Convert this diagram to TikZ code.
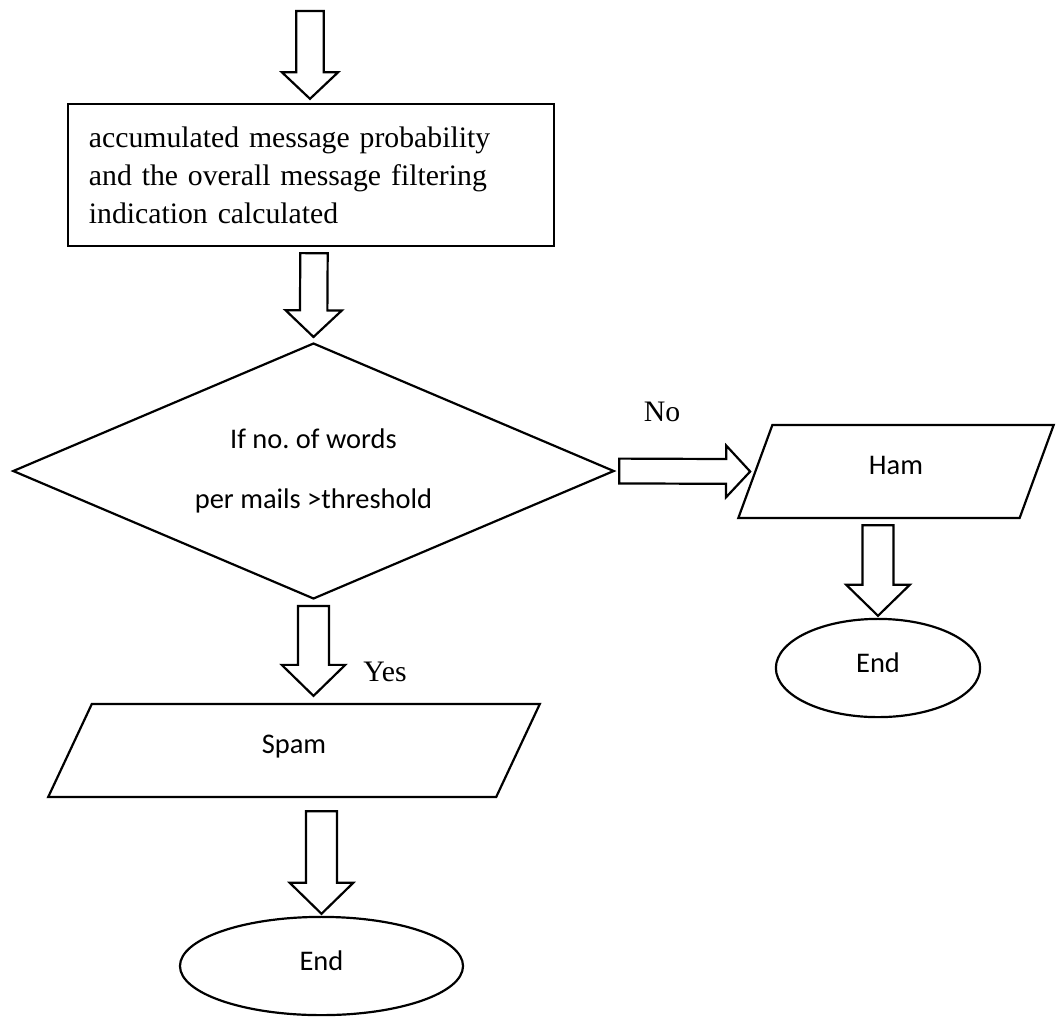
\documentclass[tikz,border=0pt]{standalone}
\usepackage{fontspec}
\setmainfont{Liberation Serif}
\newfontfamily\calibri{Carlito}
\usepackage{tikz}
\usetikzlibrary{calc}
\usetikzlibrary{positioning}
\usetikzlibrary{shapes.geometric}
\frenchspacing
\tikzstyle{fatline} = [draw=black, line width=0.85pt, fill=white, line join=miter]
\tikzstyle{procbox} = [draw=black, line width=0.85pt, rectangle, align=left, text width=171.8pt, inner xsep=8.1pt, minimum height=55pt, font=\fontsize{11.5}{14.7}\selectfont]
\tikzstyle{decision} = [draw=black, line width=0.85pt, diamond, aspect=2.35, inner sep=0, align=center, minimum width=232.6pt, minimum height=99pt, font=\calibri\fontsize{11}{23}\selectfont]
\tikzstyle{iobox} = [draw=black, line width=0.85pt, trapezium, trapezium stretches=true, inner sep=0, text depth=4.5pt, minimum height=36pt, font=\calibri\fontsize{11}{13}\selectfont]
\tikzstyle{endnode} = [draw=black, line width=0.85pt, ellipse, inner sep=0, text depth=4.5pt, minimum height=38pt, font=\calibri\fontsize{11}{13}\selectfont]
\tikzstyle{lbl} = [draw=none, inner sep=1, font=\fontsize{11.5}{14}\selectfont]

% hollow block arrow: from, to, shaft half width, head half width, head length
\newcommand{\blockarrow}[5]{%
  \coordinate (bh) at ($(#2)!#5!(#1)$);
  \draw [fatline] ($(#1)!#3!90:(#2)$) -- ($(bh)!#3!90:(#2)$) -- ($(bh)!#4!90:(#2)$) -- (#2)
    -- ($(bh)!#4!-90:(#2)$) -- ($(bh)!#3!-90:(#2)$) -- ($(#1)!#3!-90:(#2)$) -- cycle;
}

\begin{document}
\begin{tikzpicture}[x=0.0136cm, y=-0.0136cm]
\useasboundingbox (0,0) rectangle (1059,1016);

\node [procbox] (calc) at (311,175) {accumulated message probability\\and the overall message filtering\\indication calculated};
\node [decision] (test) at (313.5,471) {If no. of words\\per mails >threshold};
\node [iobox, trapezium left angle=76, trapezium right angle=104, minimum width=122.3pt] (ham) at (896,471.5) {Ham};
\node [iobox, trapezium left angle=77, trapezium right angle=103, minimum width=190.4pt] (spam) at (294,750.5) {Spam};
\node [endnode, minimum width=79pt] (hamend) at (878,668) {End};
\node [endnode, minimum width=109.5pt] (spamend) at (321.5,966) {End};
\node [lbl] (no) at (662,412) {No};
\node [lbl] (yes) at (385,672) {Yes};

\coordinate (in) at (310,11);
\coordinate (a1) at ($(calc.north)+(-1,-4)$);
\coordinate (a2s) at ($(calc.south)+(3,6)$);
\coordinate (a2t) at ($(test.north)+(0,-5)$);
\coordinate (a3s) at ($(test.east)+(4,0)$);
\coordinate (hl) at ($(ham.bottom left corner)!0.5!(ham.top left corner)$);
\coordinate (a3t) at ($(hl)+(-4,0)$);
\coordinate (h0) at (ham.south -| hamend.north);
\coordinate (a4s) at ($(h0)+(0,6)$);
\coordinate (a4t) at ($(hamend.north)+(0,-2)$);
\coordinate (y0) at (spam.north -| test.south);
\coordinate (a5s) at ($(test.south)+(0,6)$);
\coordinate (a5t) at ($(y0)+(0,-7)$);
\coordinate (s0) at (spam.south -| spamend.north);
\coordinate (a6s) at ($(s0)+(0,13)$);
\coordinate (a6t) at ($(spamend.north)+(0,-2)$);

\blockarrow{in}{a1}{5.3pt}{10.9pt}{10.3pt}
\blockarrow{a2s}{a2t}{5.3pt}{10.9pt}{10.3pt}
\blockarrow{a3s}{a3t}{4.8pt}{10pt}{9.3pt}
\blockarrow{a4s}{a4t}{6pt}{12.3pt}{12pt}
\blockarrow{a5s}{a5t}{6pt}{12.3pt}{12pt}
\blockarrow{a6s}{a6t}{6pt}{12.3pt}{12pt}
\end{tikzpicture}
\end{document}
